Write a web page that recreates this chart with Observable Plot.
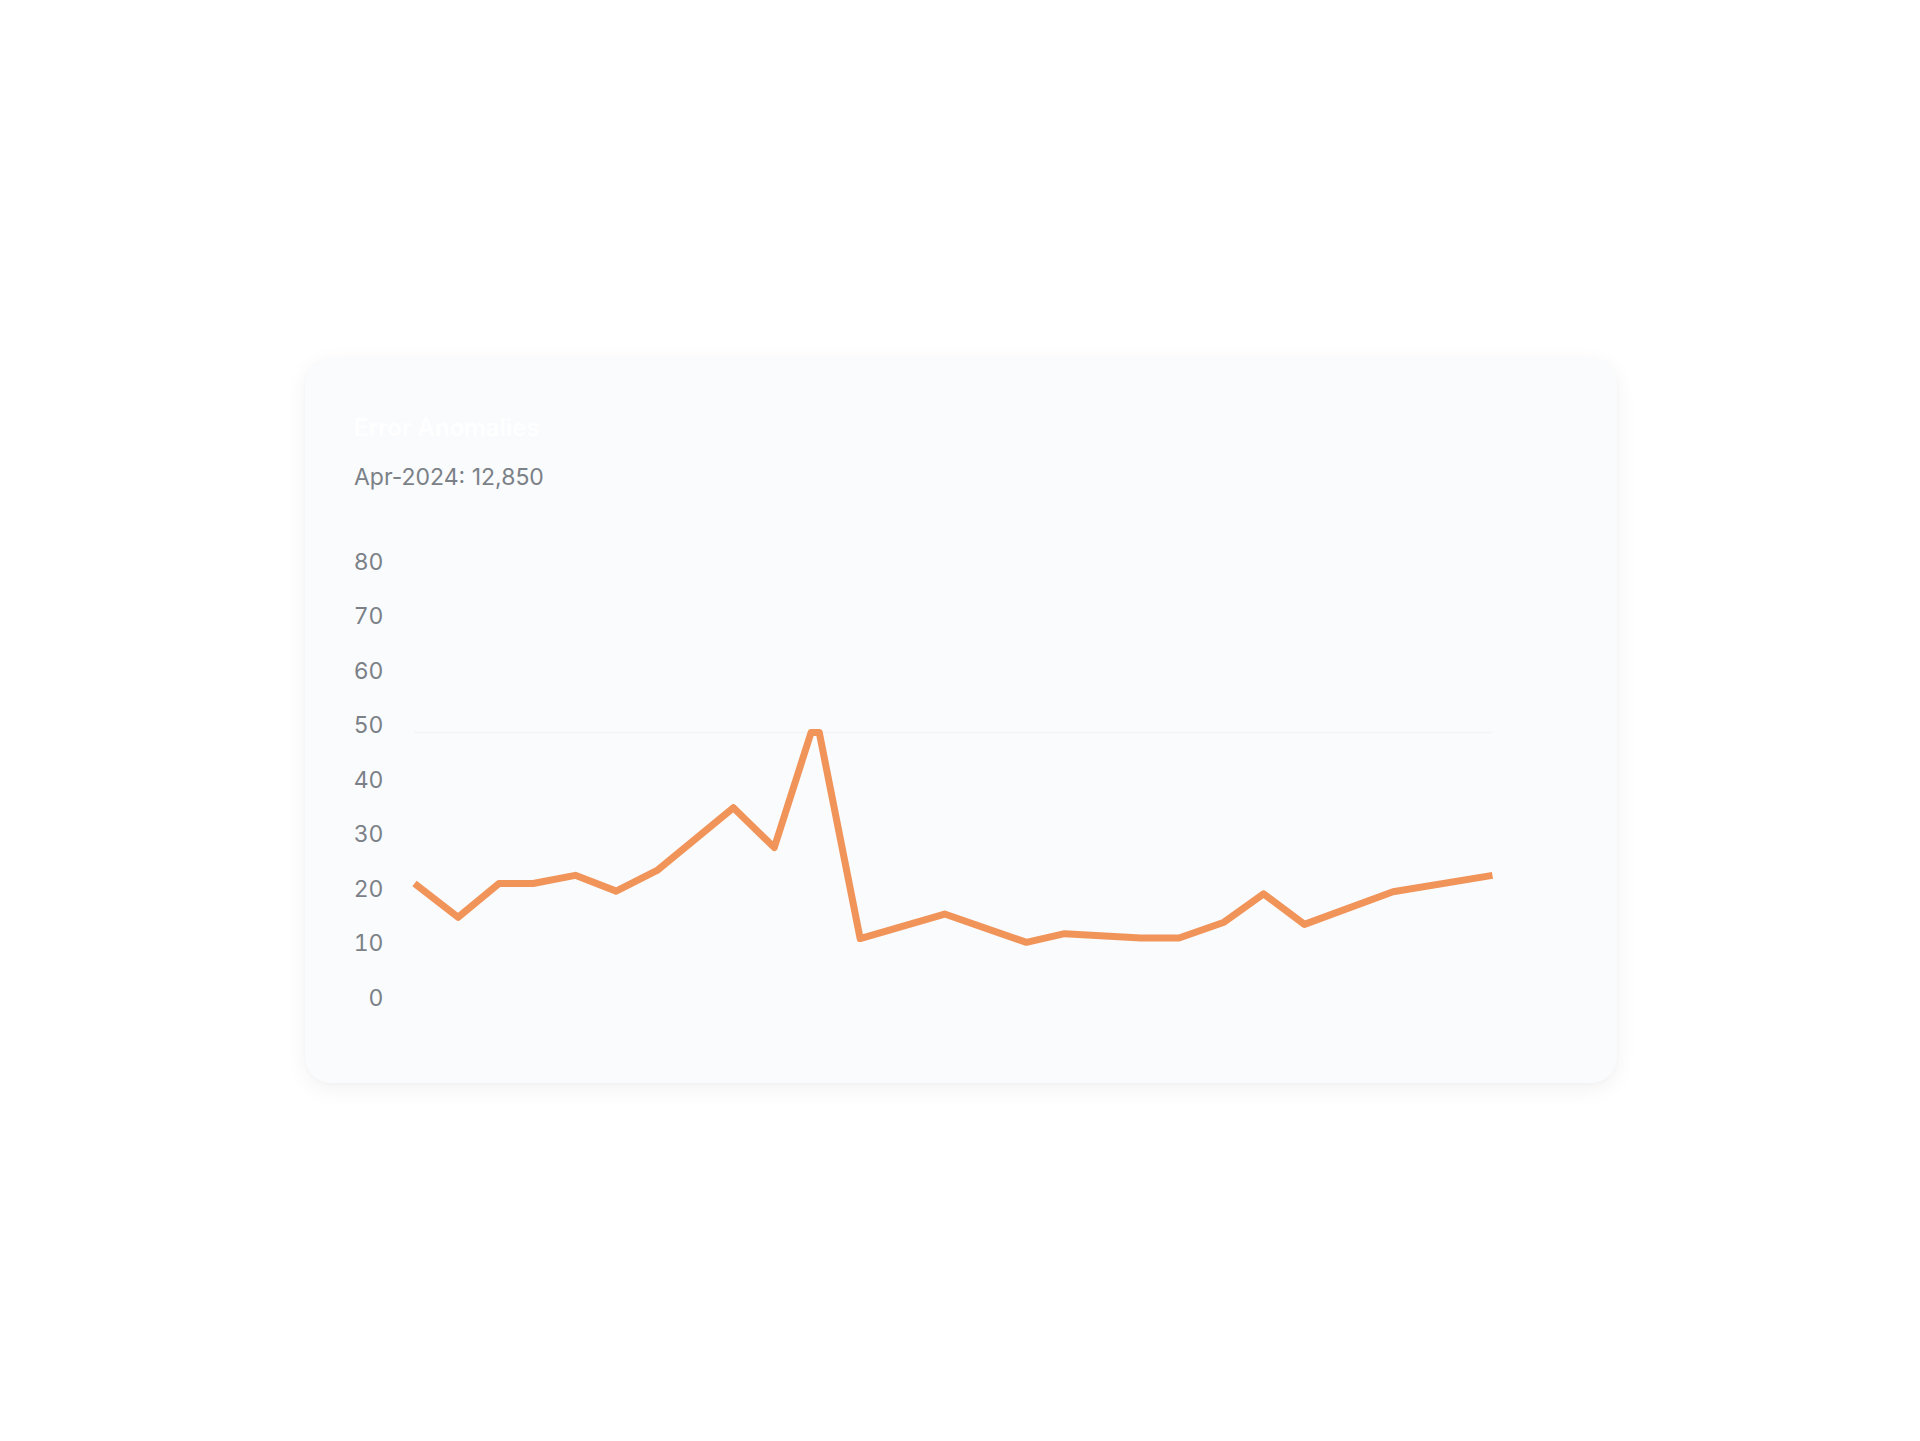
<!DOCTYPE html>
<html>
<head>
<meta charset="utf-8">
<script src="https://cdn.jsdelivr.net/npm/d3@7"></script>
<script src="https://cdn.jsdelivr.net/npm/@observablehq/plot@0.6"></script>
<style>
  html, body { margin: 0; padding: 0; background: #ffffff; }
  body { width: 1920px; height: 1441px; position: relative; font-family: Inter, "Noto Sans", sans-serif; }
  #card {
    position: absolute; left: 305px; top: 358px; width: 1312px; height: 725px;
    background: #fafbfd; border-radius: 26px;
    box-shadow: 0 6px 22px rgba(0,0,0,0.055), 0 1px 4px rgba(0,0,0,0.025);
  }
  #title {
    position: absolute; left: 49px; top: 57px; font-size: 24px; font-weight: 600;
    color: #ffffff; line-height: 26px; white-space: nowrap;
  }
  #subtitle {
    position: absolute; left: 49px; top: 106px; font-size: 23px; font-weight: 400;
    color: #7b8187; line-height: 26px; white-space: nowrap; letter-spacing: 0px;
  }
  #chart { position: absolute; left: -2px; top: 162px; }
</style>
</head>
<body>
<div id="card">
  <div id="title">Error Anomalies</div>
  <div id="subtitle">Apr-2024: 12,850</div>
  <div id="chart"></div>
</div>
<script>
const dates = ["2022-02-14","2022-03-18","2022-04-17","2022-05-12","2022-06-12","2022-07-12","2022-08-11","2022-10-06","2022-11-05","2022-12-02","2022-12-08","2023-01-07","2023-03-10","2023-05-09","2023-06-06","2023-08-01","2023-08-29","2023-10-01","2023-10-30","2023-11-29","2024-02-02","2024-04-15"];
const values = [21.1, 14.9, 21.1, 21.1, 22.6, 19.7, 23.5, 35.0, 27.7, 48.8, 48.8, 11.0, 15.5, 10.3, 11.9, 11.1, 11.1, 14.0, 19.2, 13.6, 19.6, 22.6];
const yTicks = [0, 10, 20, 30, 40, 50, 60, 70, 80];

const data = dates.map((d, i) => ({date: new Date(d + "T00:00:00Z"), value: values[i]}));
const peak = d3.max(values);

const chart = Plot.plot({
  width: 1314,
  height: 540,
  marginLeft: 111,
  marginRight: 125,
  marginTop: 42,
  marginBottom: 62,
  style: {background: "transparent", fontFamily: "Inter, 'Noto Sans', sans-serif", fontSize: "23px", color: "#7b8187"},
  x: {type: "utc", axis: null},
  y: {domain: [0, 80], ticks: yTicks, label: null},
  marks: [
    Plot.ruleY([peak], {stroke: "#f2f4f7", strokeWidth: 1.5}),
    Plot.axisY({ticks: yTicks, tickSize: 0, tickPadding: 31, label: null, fill: "#7b8187"}),
    Plot.line(data, {x: "date", y: "value", stroke: "#f0945a", strokeWidth: 7, strokeLinejoin: "round", strokeLinecap: "butt"})
  ]
});
document.getElementById("chart").appendChild(chart);
</script>
</body>
</html>
